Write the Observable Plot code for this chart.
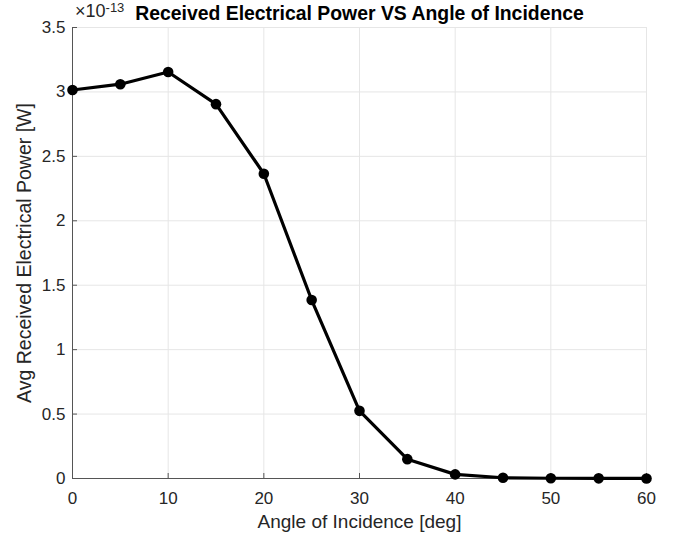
<!DOCTYPE html>
<html><head><meta charset="utf-8">
<script src="https://cdn.jsdelivr.net/npm/d3@7"></script>
<script src="https://cdn.jsdelivr.net/npm/@observablehq/plot@0.6"></script>
<style>body{margin:0;background:#fff}</style>
</head><body><div id="chart"></div>
<script>
const angles = [0, 5, 10, 15, 20, 25, 30, 35, 40, 45, 50, 55, 60];
const power = [3.015, 3.06, 3.155, 2.905, 2.365, 1.385, 0.525, 0.15, 0.032, 0.006, 0.002, 0.001, 0.0005];
const xTicks = [0, 10, 20, 30, 40, 50, 60];
const yTicks = [0, 0.5, 1, 1.5, 2, 2.5, 3, 3.5];
const yTickLabels = ["0", "0.5", "1", "1.5", "2", "2.5", "3", "3.5"];
const titleText = "Received Electrical Power VS Angle of Incidence";
const xLabel = "Angle of Incidence [deg]";
const yLabel = "Avg Received Electrical Power [W]";
const exponent = "-13";

const data = angles.map((a, i) => ({angle: a, power: power[i]}));
const textColor = "#262626";
const axisColor = "#555";
const gridColor = "#e6e6e6";
const font = "'Liberation Sans', Arial, sans-serif";

const chart = Plot.plot({
  width: 682, height: 540,
  marginLeft: 72, marginRight: 36, marginTop: 27, marginBottom: 62,
  style: {fontFamily: font, fontSize: "17px", color: textColor, background: "#fff", overflow: "visible"},
  x: {domain: [0, 60]},
  y: {domain: [0, 3.5]},
  marks: [
    Plot.ruleX(xTicks, {stroke: gridColor, strokeWidth: 1}),
    Plot.ruleY(yTicks, {stroke: gridColor, strokeWidth: 1}),
    Plot.ruleX(xTicks, {y1: 0, y2: 0, insetTop: -5, stroke: axisColor}),
    Plot.ruleY(yTicks, {x1: 0, x2: 0, insetRight: -5, stroke: axisColor}),
    Plot.ruleX([0], {stroke: axisColor}),
    Plot.ruleY([0], {stroke: axisColor}),
    Plot.axisX({ticks: xTicks, tickSize: 0, tickPadding: 13, label: null, fontSize: 17, fill: textColor}),
    Plot.axisY({ticks: yTicks, tickSize: 0, tickPadding: 7, label: null, fontSize: 17, fill: textColor,
      tickFormat: (d) => yTickLabels[yTicks.indexOf(d)]}),
    Plot.line(data, {x: "angle", y: "power", stroke: "#000", strokeWidth: 3.2}),
    Plot.dot(data, {x: "angle", y: "power", fill: "#000", r: 5.3}),
    Plot.text([xLabel], {frameAnchor: "bottom", lineAnchor: "middle", dy: 43, fontSize: 19, fill: textColor}),
    Plot.text([yLabel], {frameAnchor: "left", textAnchor: "middle", lineAnchor: "middle", dx: -48, rotate: -90, fontSize: 19.5, fill: textColor}),
    Plot.text([titleText], {frameAnchor: "top", lineAnchor: "bottom", dy: -8, fontSize: 19.4, fontWeight: "bold", fill: "#000"})
  ]
});
document.getElementById("chart").appendChild(chart);

// exponent label (×10^-13) at top-left of axes
const svg = d3.select(chart);
const t = svg.append("text")
  .attr("x", 75).attr("y", 16.5)
  .attr("text-anchor", "start")
  .attr("fill", textColor)
  .attr("font-family", font)
  .attr("font-size", 18);
t.append("tspan").text("×10");
t.append("tspan").attr("dy", -4.5).attr("font-size", 13).text(exponent);
</script>
</body></html>
